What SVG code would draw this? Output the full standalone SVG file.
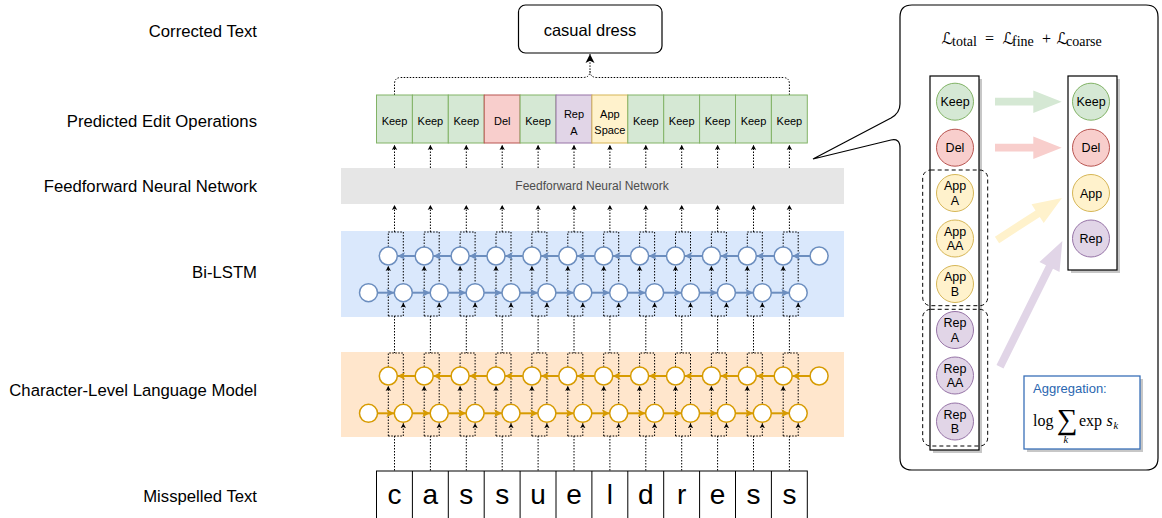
<svg xmlns="http://www.w3.org/2000/svg" width="1162" height="518" viewBox="0 0 1162 518">
<style>
.lbl{font-family:"Liberation Sans",Arial,sans-serif;font-size:16.7px;fill:#000;text-anchor:end}
.t{font-family:"Liberation Sans",Arial,sans-serif;text-anchor:middle;fill:#000}
.op{font-size:11px}
.dot{fill:none;stroke:#000;stroke-width:1;stroke-dasharray:1.5 1.5}
.da{marker-end:url(#ah)}
.cb{fill:#fff;stroke:#6c8ebf;stroke-width:1.5}
.co{fill:#fff;stroke:#d79b00;stroke-width:1.5}
.hb{fill:none;stroke:#6c8ebf;stroke-width:2;marker-end:url(#mb)}
.ho{fill:none;stroke:#d79b00;stroke-width:2;marker-end:url(#mo)}
.keep{fill:#d5e8d4;stroke:#82b366;stroke-width:1}
.del{fill:#f8cecc;stroke:#b85450;stroke-width:1}
.app{fill:#fff2cc;stroke:#d6b656;stroke-width:1}
.rep{fill:#e1d5e7;stroke:#9673a6;stroke-width:1}
.ser{font-family:"Liberation Serif","DejaVu Serif","Times New Roman",serif;fill:#000}
.scr{font-family:"DejaVu Serif","DejaVu Sans",serif}
.sc{font-size:12.5px}
.shadow{fill:#000;opacity:0.22}
.grp{fill:none;stroke:#000;stroke-width:1;stroke-dasharray:4 3}
</style>
<defs>
<marker id="ah" markerUnits="userSpaceOnUse" markerWidth="6" markerHeight="6" refX="5" refY="3" orient="auto"><path d="M0,0.3 L5,3 L0,5.7 L1.2,3 Z" fill="#000"/></marker>
<marker id="ahb" markerUnits="userSpaceOnUse" markerWidth="10" markerHeight="10" refX="9" refY="5" orient="auto"><path d="M0,0.5 L9,5 L0,9.5 L2.2,5 Z" fill="#000"/></marker>
<marker id="mb" markerUnits="userSpaceOnUse" markerWidth="9" markerHeight="9" refX="8" refY="4.5" orient="auto"><path d="M0,0.5 L8,4.5 L0,8.5 L2,4.5 Z" fill="#6c8ebf"/></marker>
<marker id="mo" markerUnits="userSpaceOnUse" markerWidth="9" markerHeight="9" refX="8" refY="4.5" orient="auto"><path d="M0,0.5 L8,4.5 L0,8.5 L2,4.5 Z" fill="#d79b00"/></marker>
</defs>
<rect width="1162" height="518" fill="#fff"/>

<g id="row-labels">
<text class="lbl" x="257" y="36.5">Corrected Text</text>
<text class="lbl" x="257" y="126.5">Predicted Edit Operations</text>
<text class="lbl" x="257" y="191.5">Feedforward Neural Network</text>
<text class="lbl" x="257" y="278">Bi-LSTM</text>
<text class="lbl" x="257" y="395.5">Character-Level Language Model</text>
<text class="lbl" x="257" y="501.5">Misspelled Text</text>
</g>

<g id="bands">
<rect id="lstm-band" x="341" y="231" width="503" height="86" fill="#dae8fc"/>
<rect id="charlm-band" x="341" y="352" width="503" height="85" fill="#ffe6cc"/>
</g>

<g id="ffn">
<rect x="341" y="168" width="503" height="36" fill="#e6e6e6"/>
<text class="t" x="592" y="190" font-size="12" style="fill:#4d4d4d">Feedforward Neural Network</text>
</g>

<g id="corrected-text">
<rect x="518.5" y="5" width="143.5" height="48" rx="7" fill="#fff" stroke="#000" stroke-width="1.2"/>
<text class="t" x="590" y="36" font-size="16.5">casual dress</text>
</g>

<g id="connectors">
<path class="dot" d="M394.5,95 V84 Q394.5,77.5 401,77.5 H583 Q590,77.5 590,71"/>
<path class="dot" d="M789.4,95 V84 Q789.4,77.5 783,77.5 H597 Q590,77.5 590,71 V54" marker-end="url(#ahb)"/>

<path class="dot da" d="M394.5,168V145"/><path class="dot da" d="M430.4,168V145"/><path class="dot da" d="M466.3,168V145"/><path class="dot da" d="M502.2,168V145"/><path class="dot da" d="M538.1,168V145"/><path class="dot da" d="M574,168V145"/><path class="dot da" d="M609.9,168V145"/><path class="dot da" d="M645.8,168V145"/><path class="dot da" d="M681.7,168V145"/><path class="dot da" d="M717.6,168V145"/><path class="dot da" d="M753.5,168V145"/><path class="dot da" d="M789.4,168V145"/>

<path class="dot da" d="M394.5,232V205"/><path class="dot da" d="M430.4,232V205"/><path class="dot da" d="M466.3,232V205"/><path class="dot da" d="M502.2,232V205"/><path class="dot da" d="M538.1,232V205"/><path class="dot da" d="M574,232V205"/><path class="dot da" d="M609.9,232V205"/><path class="dot da" d="M645.8,232V205"/><path class="dot da" d="M681.7,232V205"/><path class="dot da" d="M717.6,232V205"/><path class="dot da" d="M753.5,232V205"/><path class="dot da" d="M789.4,232V205"/>

<path class="dot" d="M388.3,247V232H403.3V283.7M388.3,316H403.3M394.5,316V353M388.3,367V353H403.3V404.3M388.3,436H403.3M394.5,436V471"/>
<path class="dot" d="M424.2,247V232H439.2V283.7M424.2,316H439.2M430.4,316V353M424.2,367V353H439.2V404.3M424.2,436H439.2M430.4,436V471"/>
<path class="dot" d="M460.1,247V232H475.1V283.7M460.1,316H475.1M466.3,316V353M460.1,367V353H475.1V404.3M460.1,436H475.1M466.3,436V471"/>
<path class="dot" d="M496,247V232H511V283.7M496,316H511M502.2,316V353M496,367V353H511V404.3M496,436H511M502.2,436V471"/>
<path class="dot" d="M531.9,247V232H546.9V283.7M531.9,316H546.9M538.1,316V353M531.9,367V353H546.9V404.3M531.9,436H546.9M538.1,436V471"/>
<path class="dot" d="M567.8,247V232H582.8V283.7M567.8,316H582.8M574,316V353M567.8,367V353H582.8V404.3M567.8,436H582.8M574,436V471"/>
<path class="dot" d="M603.7,247V232H618.7V283.7M603.7,316H618.7M609.9,316V353M603.7,367V353H618.7V404.3M603.7,436H618.7M609.9,436V471"/>
<path class="dot" d="M639.6,247V232H654.6V283.7M639.6,316H654.6M645.8,316V353M639.6,367V353H654.6V404.3M639.6,436H654.6M645.8,436V471"/>
<path class="dot" d="M675.5,247V232H690.5V283.7M675.5,316H690.5M681.7,316V353M675.5,367V353H690.5V404.3M675.5,436H690.5M681.7,436V471"/>
<path class="dot" d="M711.4,247V232H726.4V283.7M711.4,316H726.4M717.6,316V353M711.4,367V353H726.4V404.3M711.4,436H726.4M717.6,436V471"/>
<path class="dot" d="M747.3,247V232H762.3V283.7M747.3,316H762.3M753.5,316V353M747.3,367V353H762.3V404.3M747.3,436H762.3M753.5,436V471"/>
<path class="dot" d="M783.2,247V232H798.2V283.7M783.2,316H798.2M789.4,316V353M783.2,367V353H798.2V404.3M783.2,436H798.2M789.4,436V471"/>

<path class="dot da" d="M388.3,316V266"/><path class="dot da" d="M424.2,316V266"/><path class="dot da" d="M460.1,316V266"/><path class="dot da" d="M496,316V266"/><path class="dot da" d="M531.9,316V266"/><path class="dot da" d="M567.8,316V266"/><path class="dot da" d="M603.7,316V266"/><path class="dot da" d="M639.6,316V266"/><path class="dot da" d="M675.5,316V266"/><path class="dot da" d="M711.4,316V266"/><path class="dot da" d="M747.3,316V266"/><path class="dot da" d="M783.2,316V266"/>
<path class="dot da" d="M403.3,316V302.7"/><path class="dot da" d="M439.2,316V302.7"/><path class="dot da" d="M475.1,316V302.7"/><path class="dot da" d="M511,316V302.7"/><path class="dot da" d="M546.9,316V302.7"/><path class="dot da" d="M582.8,316V302.7"/><path class="dot da" d="M618.7,316V302.7"/><path class="dot da" d="M654.6,316V302.7"/><path class="dot da" d="M690.5,316V302.7"/><path class="dot da" d="M726.4,316V302.7"/><path class="dot da" d="M762.3,316V302.7"/><path class="dot da" d="M798.2,316V302.7"/>

<path class="dot da" d="M388.3,436V386"/><path class="dot da" d="M424.2,436V386"/><path class="dot da" d="M460.1,436V386"/><path class="dot da" d="M496,436V386"/><path class="dot da" d="M531.9,436V386"/><path class="dot da" d="M567.8,436V386"/><path class="dot da" d="M603.7,436V386"/><path class="dot da" d="M639.6,436V386"/><path class="dot da" d="M675.5,436V386"/><path class="dot da" d="M711.4,436V386"/><path class="dot da" d="M747.3,436V386"/><path class="dot da" d="M783.2,436V386"/>
<path class="dot da" d="M403.3,436V423.3"/><path class="dot da" d="M439.2,436V423.3"/><path class="dot da" d="M475.1,436V423.3"/><path class="dot da" d="M511,436V423.3"/><path class="dot da" d="M546.9,436V423.3"/><path class="dot da" d="M582.8,436V423.3"/><path class="dot da" d="M618.7,436V423.3"/><path class="dot da" d="M654.6,436V423.3"/><path class="dot da" d="M690.5,436V423.3"/><path class="dot da" d="M726.4,436V423.3"/><path class="dot da" d="M762.3,436V423.3"/><path class="dot da" d="M798.2,436V423.3"/>

<path class="hb" d="M415.2,256H397.3"/><path class="hb" d="M451.1,256H433.2"/><path class="hb" d="M487,256H469.1"/><path class="hb" d="M522.9,256H505"/><path class="hb" d="M558.8,256H540.9"/><path class="hb" d="M594.7,256H576.8"/><path class="hb" d="M630.6,256H612.7"/><path class="hb" d="M666.5,256H648.6"/><path class="hb" d="M702.4,256H684.5"/><path class="hb" d="M738.3,256H720.4"/><path class="hb" d="M774.2,256H756.3"/><path class="hb" d="M810.1,256H792.2"/>
<path class="hb" d="M377.5,292.7H394.3"/><path class="hb" d="M412.3,292.7H430.2"/><path class="hb" d="M448.2,292.7H466.1"/><path class="hb" d="M484.1,292.7H502"/><path class="hb" d="M520,292.7H537.9"/><path class="hb" d="M555.9,292.7H573.8"/><path class="hb" d="M591.8,292.7H609.7"/><path class="hb" d="M627.7,292.7H645.6"/><path class="hb" d="M663.6,292.7H681.5"/><path class="hb" d="M699.5,292.7H717.4"/><path class="hb" d="M735.4,292.7H753.3"/><path class="hb" d="M771.3,292.7H789.2"/>

<path class="ho" d="M415.2,376H397.3"/><path class="ho" d="M451.1,376H433.2"/><path class="ho" d="M487,376H469.1"/><path class="ho" d="M522.9,376H505"/><path class="ho" d="M558.8,376H540.9"/><path class="ho" d="M594.7,376H576.8"/><path class="ho" d="M630.6,376H612.7"/><path class="ho" d="M666.5,376H648.6"/><path class="ho" d="M702.4,376H684.5"/><path class="ho" d="M738.3,376H720.4"/><path class="ho" d="M774.2,376H756.3"/><path class="ho" d="M810.1,376H792.2"/>
<path class="ho" d="M377.5,413.3H394.3"/><path class="ho" d="M412.3,413.3H430.2"/><path class="ho" d="M448.2,413.3H466.1"/><path class="ho" d="M484.1,413.3H502"/><path class="ho" d="M520,413.3H537.9"/><path class="ho" d="M555.9,413.3H573.8"/><path class="ho" d="M591.8,413.3H609.7"/><path class="ho" d="M627.7,413.3H645.6"/><path class="ho" d="M663.6,413.3H681.5"/><path class="ho" d="M699.5,413.3H717.4"/><path class="ho" d="M735.4,413.3H753.3"/><path class="ho" d="M771.3,413.3H789.2"/>
</g>

<g id="edit-ops">
<g id="op-0"><rect class="keep" x="376.5" y="95" width="35.9" height="48"/><text class="t op" x="394.5" y="125">Keep</text></g>
<g id="op-1"><rect class="keep" x="412.4" y="95" width="35.9" height="48"/><text class="t op" x="430.4" y="125">Keep</text></g>
<g id="op-2"><rect class="keep" x="448.3" y="95" width="35.9" height="48"/><text class="t op" x="466.3" y="125">Keep</text></g>
<g id="op-3"><rect class="del" x="484.2" y="95" width="35.9" height="48"/><text class="t op" x="502.2" y="125">Del</text></g>
<g id="op-4"><rect class="keep" x="520.1" y="95" width="35.9" height="48"/><text class="t op" x="538.1" y="125">Keep</text></g>
<g id="op-5"><rect class="rep" x="556" y="95" width="35.9" height="48"/><text class="t op" x="574" y="118">Rep</text><text class="t op" x="574" y="135">A</text></g>
<g id="op-6"><rect class="app" x="591.9" y="95" width="35.9" height="48"/><text class="t op" x="609.9" y="118">App</text><text class="t op" x="609.9" y="134">Space</text></g>
<g id="op-7"><rect class="keep" x="627.8" y="95" width="35.9" height="48"/><text class="t op" x="645.8" y="125">Keep</text></g>
<g id="op-8"><rect class="keep" x="663.7" y="95" width="35.9" height="48"/><text class="t op" x="681.7" y="125">Keep</text></g>
<g id="op-9"><rect class="keep" x="699.6" y="95" width="35.9" height="48"/><text class="t op" x="717.6" y="125">Keep</text></g>
<g id="op-10"><rect class="keep" x="735.5" y="95" width="35.9" height="48"/><text class="t op" x="753.5" y="125">Keep</text></g>
<g id="op-11"><rect class="keep" x="771.4" y="95" width="35.9" height="48"/><text class="t op" x="789.4" y="125">Keep</text></g>
</g>

<g id="lstm-backward">
<circle class="cb" cx="388.3" cy="256" r="9"/><circle class="cb" cx="424.2" cy="256" r="9"/><circle class="cb" cx="460.1" cy="256" r="9"/><circle class="cb" cx="496" cy="256" r="9"/><circle class="cb" cx="531.9" cy="256" r="9"/><circle class="cb" cx="567.8" cy="256" r="9"/><circle class="cb" cx="603.7" cy="256" r="9"/><circle class="cb" cx="639.6" cy="256" r="9"/><circle class="cb" cx="675.5" cy="256" r="9"/><circle class="cb" cx="711.4" cy="256" r="9"/><circle class="cb" cx="747.3" cy="256" r="9"/><circle class="cb" cx="783.2" cy="256" r="9"/><circle class="cb" cx="819.1" cy="256" r="9"/>
</g>
<g id="lstm-forward">
<circle class="cb" cx="368.5" cy="292.7" r="9"/><circle class="cb" cx="403.3" cy="292.7" r="9"/><circle class="cb" cx="439.2" cy="292.7" r="9"/><circle class="cb" cx="475.1" cy="292.7" r="9"/><circle class="cb" cx="511" cy="292.7" r="9"/><circle class="cb" cx="546.9" cy="292.7" r="9"/><circle class="cb" cx="582.8" cy="292.7" r="9"/><circle class="cb" cx="618.7" cy="292.7" r="9"/><circle class="cb" cx="654.6" cy="292.7" r="9"/><circle class="cb" cx="690.5" cy="292.7" r="9"/><circle class="cb" cx="726.4" cy="292.7" r="9"/><circle class="cb" cx="762.3" cy="292.7" r="9"/><circle class="cb" cx="798.2" cy="292.7" r="9"/>
</g>
<g id="charlm-backward">
<circle class="co" cx="388.3" cy="376" r="9"/><circle class="co" cx="424.2" cy="376" r="9"/><circle class="co" cx="460.1" cy="376" r="9"/><circle class="co" cx="496" cy="376" r="9"/><circle class="co" cx="531.9" cy="376" r="9"/><circle class="co" cx="567.8" cy="376" r="9"/><circle class="co" cx="603.7" cy="376" r="9"/><circle class="co" cx="639.6" cy="376" r="9"/><circle class="co" cx="675.5" cy="376" r="9"/><circle class="co" cx="711.4" cy="376" r="9"/><circle class="co" cx="747.3" cy="376" r="9"/><circle class="co" cx="783.2" cy="376" r="9"/><circle class="co" cx="819.1" cy="376" r="9"/>
</g>
<g id="charlm-forward">
<circle class="co" cx="368.5" cy="413.3" r="9"/><circle class="co" cx="403.3" cy="413.3" r="9"/><circle class="co" cx="439.2" cy="413.3" r="9"/><circle class="co" cx="475.1" cy="413.3" r="9"/><circle class="co" cx="511" cy="413.3" r="9"/><circle class="co" cx="546.9" cy="413.3" r="9"/><circle class="co" cx="582.8" cy="413.3" r="9"/><circle class="co" cx="618.7" cy="413.3" r="9"/><circle class="co" cx="654.6" cy="413.3" r="9"/><circle class="co" cx="690.5" cy="413.3" r="9"/><circle class="co" cx="726.4" cy="413.3" r="9"/><circle class="co" cx="762.3" cy="413.3" r="9"/><circle class="co" cx="798.2" cy="413.3" r="9"/>
</g>

<g id="misspelled-text" font-family="Liberation Sans, Arial, sans-serif" font-size="28" text-anchor="middle">
<rect x="376.5" y="471" width="430.8" height="60" fill="#fff" stroke="#000" stroke-width="1"/>
<path d="M412.4,471V518M448.3,471V518M484.2,471V518M520.1,471V518M556,471V518M591.9,471V518M627.8,471V518M663.7,471V518M699.6,471V518M735.5,471V518M771.4,471V518" stroke="#000" stroke-width="1"/>
<text x="394.5" y="504">c</text><text x="430.4" y="504">a</text><text x="466.3" y="504">s</text><text x="502.2" y="504">s</text><text x="538.1" y="504">u</text><text x="574" y="504">e</text><text x="609.9" y="504">l</text><text x="645.8" y="504">d</text><text x="681.7" y="504">r</text><text x="717.6" y="504">e</text><text x="753.5" y="504">s</text><text x="789.4" y="504">s</text>
</g>

<g id="loss-panel">
<path d="M912,5 H1146 Q1158,5 1158,17 V458 Q1158,470 1146,470 H912 Q900,470 900,458 V148 Q900,138 891,140 L813,159 L891,118 Q900,113 900,104 V17 Q900,5 912,5 Z" fill="#fff" stroke="#000" stroke-width="1.2"/>
<text id="loss-formula" class="ser" y="43.5" font-size="16"><tspan class="scr" x="941.5">ℒ</tspan><tspan x="952" y="46" font-size="14">total</tspan><tspan x="985" y="43.5">=</tspan><tspan class="scr" x="1002.5">ℒ</tspan><tspan x="1012" y="46" font-size="14">fine</tspan><tspan x="1042" y="43.5">+</tspan><tspan class="scr" x="1056.5">ℒ</tspan><tspan x="1066" y="46" font-size="14">coarse</tspan></text>
</g>

<g id="fine-column">
<rect class="shadow" x="933" y="79" width="49" height="374"/>
<rect x="930" y="76" width="49" height="374" fill="#fff" stroke="#000" stroke-width="1.2"/>
</g>
<g id="coarse-column">
<rect class="shadow" x="1071" y="79" width="49" height="194"/>
<rect x="1068" y="76" width="49" height="194" fill="#fff" stroke="#000" stroke-width="1.2"/>
</g>

<g id="fine-keep"><circle class="keep" cx="955" cy="101.7" r="18.5"/><text class="t sc" x="955" y="106">Keep</text></g>
<g id="fine-del"><circle class="del" cx="955" cy="147.7" r="18.5"/><text class="t sc" x="955" y="152">Del</text></g>
<g id="fine-app-a"><circle class="app" cx="955" cy="193" r="18.5"/><text class="t sc" x="955" y="190">App</text><text class="t sc" x="955" y="204.5">A</text></g>
<g id="fine-app-aa"><circle class="app" cx="955" cy="238.5" r="18.5"/><text class="t sc" x="955" y="235.5">App</text><text class="t sc" x="955" y="250">AA</text></g>
<g id="fine-app-b"><circle class="app" cx="955" cy="284" r="18.5"/><text class="t sc" x="955" y="281">App</text><text class="t sc" x="955" y="295.5">B</text></g>
<g id="fine-rep-a"><circle class="rep" cx="955" cy="330" r="18.5"/><text class="t sc" x="955" y="327">Rep</text><text class="t sc" x="955" y="341.5">A</text></g>
<g id="fine-rep-aa"><circle class="rep" cx="955" cy="375.5" r="18.5"/><text class="t sc" x="955" y="372.5">Rep</text><text class="t sc" x="955" y="387">AA</text></g>
<g id="fine-rep-b"><circle class="rep" cx="955" cy="421.5" r="18.5"/><text class="t sc" x="955" y="418.5">Rep</text><text class="t sc" x="955" y="433">B</text></g>

<g id="app-group"><rect class="grp" x="922.7" y="170" width="65" height="135.7" rx="8"/></g>
<g id="rep-group"><rect class="grp" x="922.7" y="309.3" width="65" height="136.7" rx="8"/></g>

<g id="coarse-keep"><circle class="keep" cx="1091" cy="101.7" r="18.5"/><text class="t sc" x="1091" y="106">Keep</text></g>
<g id="coarse-del"><circle class="del" cx="1091" cy="147.7" r="18.5"/><text class="t sc" x="1091" y="152">Del</text></g>
<g id="coarse-app"><circle class="app" cx="1091" cy="193" r="18.5"/><text class="t sc" x="1091" y="197.5">App</text></g>
<g id="coarse-rep"><circle class="rep" cx="1091" cy="238.5" r="18.5"/><text class="t sc" x="1091" y="243">Rep</text></g>

<g id="mapping-arrows">
<path d="M995,97.8 H1033.3 V90.5 L1061.7,101.7 L1033.3,112.9 V105.6 H995 Z" fill="#d5e8d4"/>
<path d="M995,143.8 H1033.3 V136.5 L1061.7,147.7 L1033.3,158.9 V151.6 H995 Z" fill="#f8cecc"/>
<path transform="translate(997,240) rotate(-32.9)" d="M0,-3.9 H48.4 V-11.2 L77.4,0 L48.4,11.2 V3.9 H0 Z" fill="#fff2cc"/>
<path transform="translate(1000,366.7) rotate(-63.6)" d="M0,-3.9 H111.3 V-11.2 L140.3,0 L111.3,11.2 V3.9 H0 Z" fill="#e1d5e7"/>
</g>

<g id="aggregation">
<rect class="shadow" x="1027" y="379" width="116" height="73"/>
<rect x="1024" y="376" width="116" height="73" fill="#fff" stroke="#3a70b8" stroke-width="1.3"/>
<text x="1033" y="393" font-family="Liberation Sans, Arial, sans-serif" font-size="13" fill="#2a66b0">Aggregation:</text>
<text class="ser" y="426" font-size="16"><tspan x="1033">log</tspan><tspan x="1057" y="429" font-size="29">∑</tspan><tspan x="1063.5" y="443" font-size="10.5" font-style="italic">k</tspan><tspan x="1079" y="426">exp</tspan><tspan x="1106.5" font-style="italic">s</tspan><tspan x="1113.5" y="429" font-size="10.5" font-style="italic">k</tspan></text>
</g>
</svg>
